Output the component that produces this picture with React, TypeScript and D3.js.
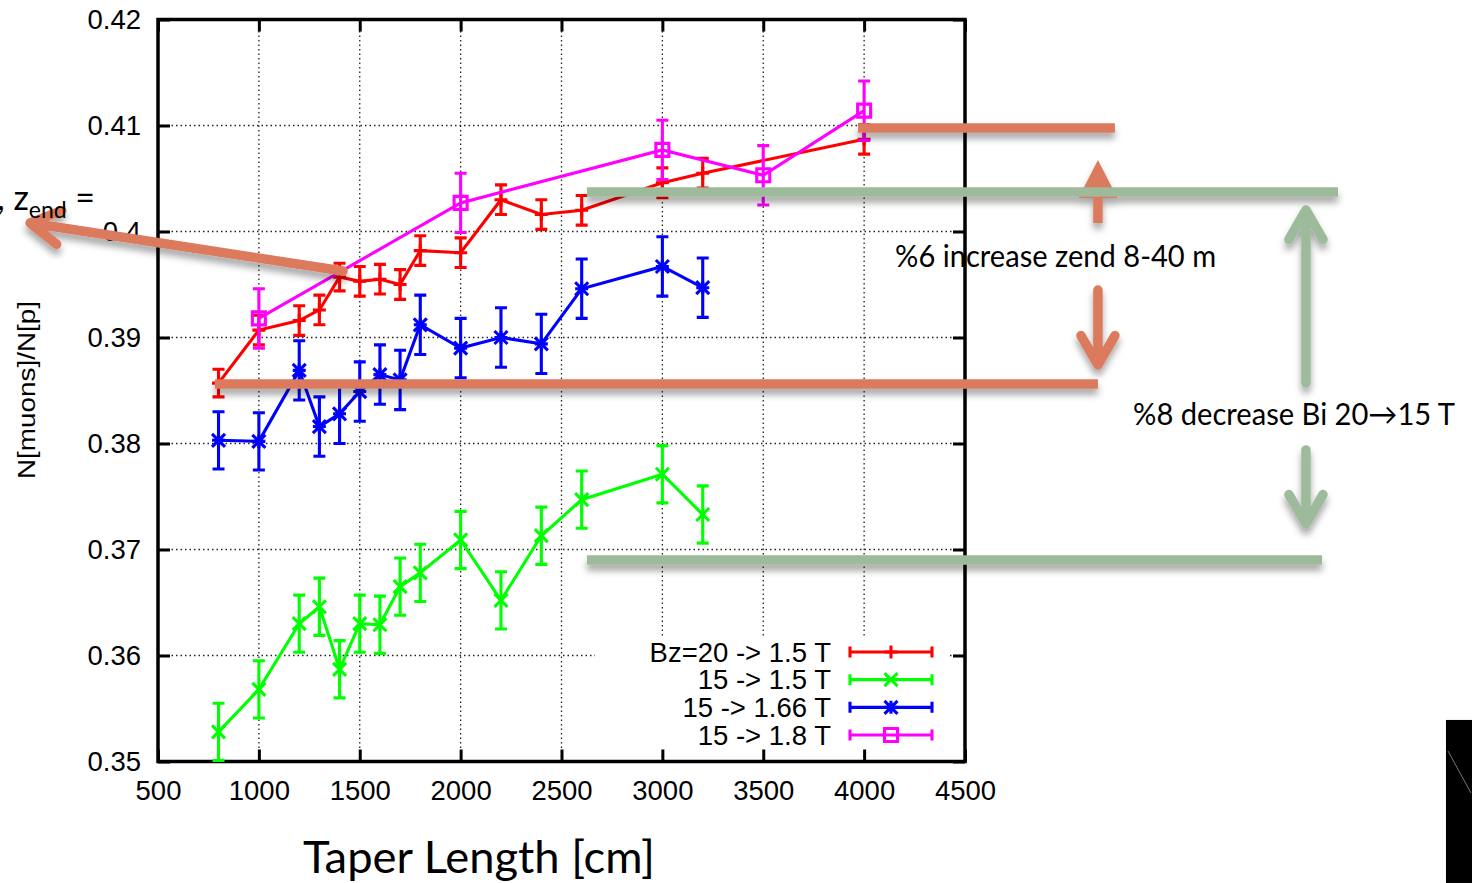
import * as d3 from 'd3';
import React, { useRef, useEffect } from 'react';

// taper lengths [cm]
const lengths = [800, 1000, 1200, 1300, 1400, 1500, 1600, 1700, 1800, 2000, 2200, 2400, 2600, 3000, 3200];
const redLengths = [...lengths, 4000];
const pinkLengths = [1000, 2000, 3000, 3500, 4000];

// N[muons]/N[p]
const redRatio = [0.3857, 0.3907, 0.3916, 0.3926, 0.3957, 0.3953, 0.3955, 0.3950, 0.3982, 0.3980, 0.4030, 0.4016, 0.4020, 0.4046, 0.4055, 0.4087];
const redErr = [0.0013, 0.0014, 0.0014, 0.0014, 0.0013, 0.0014, 0.0014, 0.0014, 0.0014, 0.0014, 0.0014, 0.0014, 0.0014, 0.0014, 0.0014, 0.0014];
const greenRatio = [0.3528, 0.3568, 0.3630, 0.3646, 0.3587, 0.3630, 0.3629, 0.3665, 0.3678, 0.3709, 0.3652, 0.3713, 0.3747, 0.3771, 0.3733];
const greenErr = [0.0027, 0.0027, 0.0027, 0.0027, 0.0027, 0.0027, 0.0027, 0.0027, 0.0027, 0.0027, 0.0027, 0.0027, 0.0027, 0.0027, 0.0027];
const blueRatio = [0.3803, 0.3802, 0.3869, 0.3816, 0.3828, 0.3849, 0.3865, 0.3860, 0.3912, 0.3890, 0.3900, 0.3894, 0.3946, 0.3967, 0.3947];
const blueErr = [0.0027, 0.0027, 0.0028, 0.0028, 0.0028, 0.0028, 0.0028, 0.0028, 0.0028, 0.0028, 0.0028, 0.0028, 0.0028, 0.0028, 0.0028];
const pinkRatio = [0.3918, 0.4027, 0.4077, 0.4053, 0.4114];
const pinkErr = [0.0028, 0.0028, 0.0028, 0.0028, 0.0028];

const legendLabels = ['Bz=20 -> 1.5 T', '15 -> 1.5 T', '15 -> 1.66 T', '15 -> 1.8 T'];
const xTicks = [500, 1000, 1500, 2000, 2500, 3000, 3500, 4000, 4500];
const yTicks = [0.35, 0.36, 0.37, 0.38, 0.39, 0.40, 0.41, 0.42];

// slide overlay (in data units)
const orangeBars = [
  { x0: 3970, x1: 5243, y: 0.40976 },
  { x0: 782, x1: 5159, y: 0.38561 },
];
const greenBars = [
  { x0: 2626, x1: 6349, y: 0.40373 },
  { x0: 2626, x1: 6270, y: 0.36901 },
];
const orangeArrows = [
  { x0: 1417, y0: 0.39627, x1: -134, y1: 0.40080 },
  { x0: 5159, y0: 0.39448, x1: 5159, y1: 0.38741 },
];
const orangeBlockArrow = { x: 5159, y0: 0.40080, y1: 0.40675, yBase: 0.40316 };
const greenArrows = [
  { x0: 6190, y0: 0.38571, x1: 6190, y1: 0.40203 },
  { x0: 6190, y0: 0.37939, x1: 6190, y1: 0.37241 },
];
const notes = [
  { text: '%6 increase zend 8-40 m', x: 4949, y: 0.39665, len: 321 },
  { text: '%8 decrease Bi 20\u219215 T', x: 6131, y: 0.38175, len: 322 },
];
const blackBox = { x0: 6884, x1: 7100, y0: 0.35392, y1: 0.33854 };
const blackBoxLine = { x0: 6894, y0: 0.35099, x1: 7008, y1: 0.34703 };

const W = 1472, H = 883;
const orange = '#db7a5c';
const sage = '#9dbb9b';
const gnuFont = '"Liberation Sans", Arial, sans-serif';
const pptFont = 'Lato, "Open Sans", sans-serif';

const App = () => {
  const ref = useRef(null);

  const margin = { top: 19.5, right: 507, bottom: 121.5, left: 158 };

  useEffect(() => {
    draw();
  });

  const draw = () => {
    const svg = d3.select(ref.current);
    svg.selectAll('*').remove();

    const x = d3.scaleLinear().domain([500, 4500]).range([margin.left, W - margin.right]);
    const y = d3.scaleLinear().domain([0.35, 0.42]).range([H - margin.bottom, margin.top]);
    const [x0, x1] = x.range();
    const [y0, y1] = y.range();

    const defs = svg.append('defs');
    const f = defs.append('filter').attr('id', 'shadow')
      .attr('filterUnits', 'userSpaceOnUse')
      .attr('x', -50).attr('y', -50).attr('width', W + 100).attr('height', H + 100);
    f.append('feDropShadow').attr('dx', 0).attr('dy', 6).attr('stdDeviation', 3.5)
      .attr('flood-color', '#000').attr('flood-opacity', 0.35);

    svg.append('rect').attr('width', W).attr('height', H).attr('fill', '#fff');

    // grid
    const grid = svg.append('g').attr('stroke', '#222').attr('stroke-width', 1.3).attr('stroke-dasharray', '1.5,3');
    xTicks.slice(1, -1).forEach((t) => {
      grid.append('line').attr('x1', x(t)).attr('x2', x(t)).attr('y1', y0).attr('y2', y1);
    });
    yTicks.slice(1, -1).forEach((t) => {
      grid.append('line').attr('x1', x0).attr('x2', x1).attr('y1', y(t)).attr('y2', y(t));
    });

    // key background
    svg.append('rect').attr('x', 595).attr('y', 637).attr('width', 353).attr('height', 116).attr('fill', '#fff');

    // axes
    const styleAxis = (g) => {
      g.attr('font-family', gnuFont).attr('font-size', 27.5);
      g.select('.domain').remove();
      g.selectAll('.tick line').attr('stroke', '#000').attr('stroke-width', 3);
      g.selectAll('.tick text').attr('fill', '#000');
    };
    svg.append('g').attr('transform', `translate(0,${y0})`)
      .call(d3.axisBottom(x).tickValues(xTicks).tickSize(-12).tickPadding(18.5).tickFormat(d3.format('d')))
      .call(styleAxis);
    svg.append('g').attr('transform', `translate(${x0},0)`)
      .call(d3.axisLeft(y).tickValues(yTicks).tickSize(-12).tickPadding(17).tickFormat((d) => String(+d.toFixed(2))))
      .call(styleAxis);
    svg.append('g').attr('transform', `translate(0,${y1})`)
      .call(d3.axisTop(x).tickValues(xTicks).tickSize(-12).tickFormat(() => ''))
      .call(styleAxis);
    svg.append('g').attr('transform', `translate(${x1},0)`)
      .call(d3.axisRight(y).tickValues(yTicks).tickSize(-12).tickFormat(() => ''))
      .call(styleAxis);

    svg.append('rect').attr('x', x0).attr('y', y1).attr('width', x1 - x0).attr('height', y0 - y1)
      .attr('fill', 'none').attr('stroke', '#000').attr('stroke-width', 3.5);

    // markers
    const marker = (kind, cx, cy) => {
      const s = 6.5;
      const plus = `M${cx - s},${cy}H${cx + s}M${cx},${cy - s}V${cy + s}`;
      const cross = `M${cx - s},${cy - s}L${cx + s},${cy + s}M${cx - s},${cy + s}L${cx + s},${cy - s}`;
      if (kind === 'plus') return plus;
      if (kind === 'cross') return cross;
      if (kind === 'star') return plus + cross;
      return `M${cx - s},${cy - s}H${cx + s}V${cy + s}H${cx - s}Z`;
    };

    const series = [
      { xs: redLengths, ys: redRatio, es: redErr, color: '#ff0000', kind: 'plus' },
      { xs: lengths, ys: greenRatio, es: greenErr, color: '#00ff00', kind: 'cross' },
      { xs: lengths, ys: blueRatio, es: blueErr, color: '#0000ff', kind: 'star' },
      { xs: pinkLengths, ys: pinkRatio, es: pinkErr, color: '#ff00ff', kind: 'box' },
    ];

    const line = d3.line().x((d) => x(d[0])).y((d) => y(d[1]));
    const cap = 6;

    series.forEach((s) => {
      const pts = s.xs.map((v, i) => [v, s.ys[i], s.es[i]]);
      const g = svg.append('g').attr('stroke', s.color).attr('fill', 'none').attr('stroke-width', 3.1);
      g.append('path').datum(pts).attr('d', line);
      pts.forEach((p) => {
        const px = x(p[0]);
        const lo = y(p[1] - p[2]);
        const hi = y(p[1] + p[2]);
        g.append('path').attr('d', `M${px},${lo}V${hi}M${px - cap},${lo}H${px + cap}M${px - cap},${hi}H${px + cap}`);
        g.append('path').attr('d', marker(s.kind, px, y(p[1])));
      });
    });

    // key
    const rowY = d3.scalePoint().domain(legendLabels).range([652, 735]);
    series.forEach((s, i) => {
      const ry = rowY(legendLabels[i]);
      svg.append('text').attr('x', 831).attr('y', ry + 9.5).attr('text-anchor', 'end')
        .attr('font-family', gnuFont).attr('font-size', 27.5).attr('fill', '#000').text(legendLabels[i]);
      const g = svg.append('g').attr('stroke', s.color).attr('fill', 'none').attr('stroke-width', 3.1);
      g.append('path').attr('d', `M850,${ry}H932M850,${ry - 5.5}V${ry + 5.5}M932,${ry - 5.5}V${ry + 5.5}`);
      g.append('path').attr('d', marker(s.kind, 891, ry));
    });

    // axis titles
    svg.append('text').attr('transform', 'translate(35,390) rotate(-90)').attr('text-anchor', 'middle')
      .attr('font-family', gnuFont).attr('font-size', 23).attr('textLength', 178).attr('lengthAdjust', 'spacingAndGlyphs')
      .text('N[muons]/N[p]');
    svg.append('text').attr('x', 303).attr('y', 873)
      .attr('font-family', pptFont).attr('font-size', 45).attr('textLength', 352).attr('lengthAdjust', 'spacingAndGlyphs')
      .text('Taper Length [cm]');

    // slide overlay
    const ov = svg.append('g').attr('filter', 'url(#shadow)').attr('fill', 'none').attr('stroke-width', 9.5);
    const chevron = (a, color) => {
      const ax = x(a.x0), ay = y(a.y0), bx = x(a.x1), by = y(a.y1);
      const ang = Math.atan2(ay - by, ax - bx);
      const L = 34, sp = Math.PI / 6;
      const p1 = [bx + L * Math.cos(ang + sp), by + L * Math.sin(ang + sp)];
      const p2 = [bx + L * Math.cos(ang - sp), by + L * Math.sin(ang - sp)];
      ov.append('path').attr('stroke', color).attr('stroke-linecap', 'round').attr('stroke-linejoin', 'round')
        .attr('d', `M${ax},${ay}L${bx},${by}M${p1[0]},${p1[1]}L${bx},${by}L${p2[0]},${p2[1]}`);
    };

    chevron(orangeArrows[0], orange);
    orangeBars.forEach((b) => {
      ov.append('line').attr('stroke', orange).attr('x1', x(b.x0)).attr('x2', x(b.x1)).attr('y1', y(b.y)).attr('y2', y(b.y));
    });
    const bx = x(orangeBlockArrow.x);
    ov.append('line').attr('stroke', orange).attr('x1', bx).attr('x2', bx)
      .attr('y1', y(orangeBlockArrow.y0)).attr('y2', y(orangeBlockArrow.yBase));
    ov.append('path').attr('fill', orange).attr('stroke', 'none')
      .attr('d', `M${bx - 19.5},${y(orangeBlockArrow.yBase)}L${bx},${y(orangeBlockArrow.y1)}L${bx + 19.5},${y(orangeBlockArrow.yBase)}Z`);
    chevron(orangeArrows[1], orange);
    greenBars.forEach((b) => {
      ov.append('line').attr('stroke', sage).attr('x1', x(b.x0)).attr('x2', x(b.x1)).attr('y1', y(b.y)).attr('y2', y(b.y));
    });
    greenArrows.forEach((a) => chevron(a, sage));

    notes.forEach((n) => {
      svg.append('text').attr('x', x(n.x)).attr('y', y(n.y)).attr('text-anchor', 'middle')
        .attr('font-family', pptFont).attr('font-size', 30).attr('fill', '#000')
        .attr('textLength', n.len).attr('lengthAdjust', 'spacingAndGlyphs').text(n.text);
    });

    // cut-off title fragment at the left edge
    const zt = svg.append('text').attr('x', -3).attr('y', 210).attr('font-family', pptFont).attr('font-size', 34).attr('fill', '#000');
    zt.append('tspan').text(', z');
    zt.append('tspan').attr('font-size', 23).attr('dy', 8).text('end');
    zt.append('tspan').attr('dy', -8).text(' =');

    svg.append('rect').attr('x', x(blackBox.x0)).attr('y', y(blackBox.y0))
      .attr('width', x(blackBox.x1) - x(blackBox.x0)).attr('height', y(blackBox.y1) - y(blackBox.y0)).attr('fill', '#000');
    svg.append('line').attr('x1', x(blackBoxLine.x0)).attr('y1', y(blackBoxLine.y0))
      .attr('x2', x(blackBoxLine.x1)).attr('y2', y(blackBoxLine.y1)).attr('stroke', '#777').attr('stroke-width', 1);
  };

  return (
    <svg ref={ref} width={W} height={H} style={{ position: 'absolute', left: 0, top: 0, display: 'block' }}></svg>
  );
};

export default App;
